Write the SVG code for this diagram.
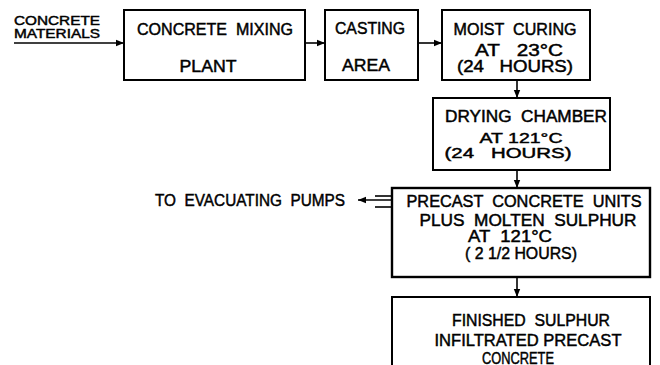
<svg xmlns="http://www.w3.org/2000/svg" width="660" height="365" viewBox="0 0 660 365">
<style>
.box{fill:#fff;stroke:#000;stroke-width:2}
text{font-family:"Liberation Sans",Arial,sans-serif;font-size:16px;fill:#000;stroke:#000;stroke-width:0.45;text-anchor:middle;dominant-baseline:central;white-space:pre}
.sm{font-size:12.5px;text-anchor:start}
.pm{font-size:16px;text-anchor:start}
.f15{font-size:15px}
.conn line{stroke:#000;stroke-width:1.6}
</style>
<defs>
<marker id="ah" viewBox="0 0 10 10" refX="10" refY="5" markerWidth="8" markerHeight="8" markerUnits="userSpaceOnUse" orient="auto">
<path d="M0,1 L10,5 L0,9 Z" fill="#000"/>
</marker>
</defs>
<rect width="660" height="365" fill="#fff"/>
<g id="input">
<text class="sm" x="14" y="21" textLength="86" lengthAdjust="spacingAndGlyphs">CONCRETE</text>
<text class="sm" x="14" y="33.5" textLength="86" lengthAdjust="spacingAndGlyphs">MATERIALS</text>
</g>
<g id="mixing">
<rect class="box" x="124" y="10" width="181" height="70"/>
<text x="215" y="29" textLength="156" lengthAdjust="spacingAndGlyphs">CONCRETE  MIXING</text>
<text x="208" y="66" textLength="57" lengthAdjust="spacingAndGlyphs">PLANT</text>
</g>
<g id="casting">
<rect class="box" x="325" y="10" width="93" height="70"/>
<text x="370" y="28" textLength="70" lengthAdjust="spacingAndGlyphs">CASTING</text>
<text x="366" y="65" textLength="48" lengthAdjust="spacingAndGlyphs">AREA</text>
</g>
<g id="moist">
<rect class="box" x="442" y="10" width="148" height="70"/>
<text x="515" y="29" textLength="123" lengthAdjust="spacingAndGlyphs">MOIST  CURING</text>
<text x="519" y="50" textLength="88" lengthAdjust="spacingAndGlyphs">AT   23°C</text>
<text x="515" y="66" textLength="116" lengthAdjust="spacingAndGlyphs">(24   HOURS)</text>
</g>
<g id="drying">
<rect class="box" x="433" y="98" width="177" height="72"/>
<text x="526" y="116" textLength="162" lengthAdjust="spacingAndGlyphs">DRYING  CHAMBER</text>
<text class="f15" x="521" y="137" textLength="83" lengthAdjust="spacingAndGlyphs">AT 121°C</text>
<text class="f15" x="508" y="152.5" textLength="127" lengthAdjust="spacingAndGlyphs">(24   HOURS)</text>
</g>
<g id="precast">
<rect class="box" x="392" y="188" width="258" height="89" style="stroke-width:2.4"/>
<text x="524" y="201" textLength="235" lengthAdjust="spacingAndGlyphs">PRECAST  CONCRETE  UNITS</text>
<text x="528" y="220" textLength="217" lengthAdjust="spacingAndGlyphs">PLUS  MOLTEN  SULPHUR</text>
<text x="510" y="236" textLength="84" lengthAdjust="spacingAndGlyphs">AT  121°C</text>
<text x="521" y="253" textLength="112" lengthAdjust="spacingAndGlyphs">( 2 1/2 HOURS)</text>
</g>
<g id="finished">
<rect class="box" x="392" y="297" width="258" height="80"/>
<text x="531" y="320" textLength="158" lengthAdjust="spacingAndGlyphs">FINISHED  SULPHUR</text>
<text x="528" y="340" textLength="187" lengthAdjust="spacingAndGlyphs">INFILTRATED PRECAST</text>
<text x="518" y="358" textLength="72" lengthAdjust="spacingAndGlyphs">CONCRETE</text>
</g>
<g id="pumps">
<text class="pm" x="155" y="200" textLength="190" lengthAdjust="spacingAndGlyphs">TO  EVACUATING  PUMPS</text>
</g>
<g class="conn">
<line x1="14" y1="43" x2="124" y2="43" marker-end="url(#ah)"/>
<line x1="305" y1="43" x2="325" y2="43" marker-end="url(#ah)"/>
<line x1="418" y1="43" x2="442" y2="43" marker-end="url(#ah)"/>
<line x1="517" y1="80" x2="517" y2="98" marker-end="url(#ah)"/>
<line x1="517" y1="170" x2="517" y2="188" marker-end="url(#ah)"/>
<line x1="517" y1="277" x2="517" y2="297" marker-end="url(#ah)"/>
<line x1="392" y1="200" x2="358" y2="200" marker-end="url(#ah)"/>
<line x1="375" y1="196" x2="392" y2="196"/>
<line x1="375" y1="207" x2="392" y2="207"/>
</g>
</svg>
